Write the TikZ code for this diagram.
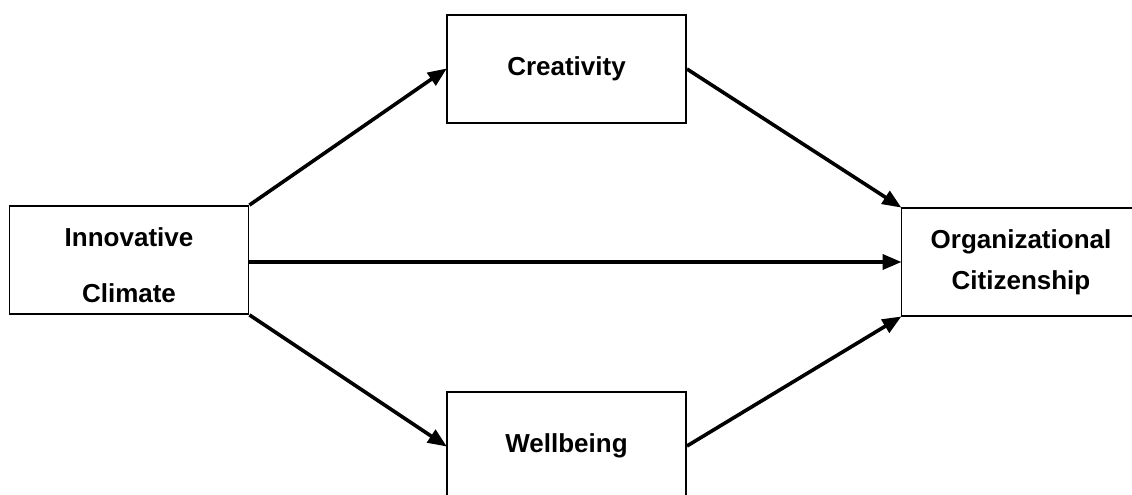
\documentclass[tikz,border=0pt]{standalone}
\usepackage{fontspec}
\setmainfont{Liberation Sans}
\usetikzlibrary{arrows.meta}
\tikzset{
  varbox/.style={draw=black, line width=1.9pt, minimum width=239pt, minimum height=108pt, inner sep=0pt, align=center, font=\fontsize{26}{41}\selectfont\bfseries},
  boxtext/.style={inner sep=0pt, align=center, font=\fontsize{26}{56}\selectfont\bfseries},
  path/.style={line width=3.6pt, -{Triangle[length=19pt,width=15pt]}, shorten >=-1pt}
}
\begin{document}
\begin{tikzpicture}[x=1pt,y=-1pt]
\useasboundingbox[fill=white] (0,0) rectangle (1132,495);
\begin{scope}
\clip (0,0) rectangle (1132,495);
\node[varbox] (innov) at (129,260) {};
\node[boxtext] (innovtext) at (129,265) {Innovative\\Climate};
\node[varbox] (crea) at (566.5,69) {Creativity};
\node[varbox] (well) at (566.5,446) {Wellbeing};
\node[varbox] (org) at (1021,262) {Organizational\\Citizenship};
\draw[path] (innov.north east) -- (crea.west);
\draw[path] (crea.east) -- (org.north west);
\draw[path] (innov.east |- org.west) -- (org.west);
\draw[path] (innov.south east) -- (well.west);
\draw[path] (well.east) -- (org.south west);
\end{scope}
\end{tikzpicture}
\end{document}
